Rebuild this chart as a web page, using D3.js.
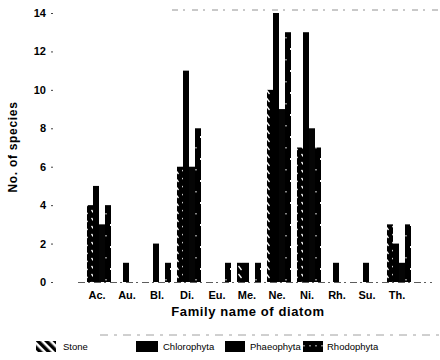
<!DOCTYPE html>
<html><head><meta charset="utf-8">
<script src="https://cdn.jsdelivr.net/npm/d3@7"></script>
<style>
body{margin:0;background:#fff;}
text{font-family:"Liberation Sans",Arial,sans-serif;}
</style></head>
<body><svg id="c" width="440" height="360"></svg>
<script>
const categories = ["Ac.","Au.","Bl.","Di.","Eu.","Me.","Ne.","Ni.","Rh.","Su.","Th."];
const seriesNames = ["Stone","Chlorophyta","Phaeophyta","Rhodophyta"];
const stone       = [4,0,0,6,0,1,10,7,0,0,3];
const chlorophyta = [5,1,2,11,0,1,14,13,1,1,2];
const phaeophyta  = [3,0,0,6,0,0,9,8,0,0,1];
const rhodophyta  = [4,0,1,8,1,1,13,7,0,0,3];
const yTicks = [0,2,4,6,8,10,12,14];

const seriesValues = [stone, chlorophyta, phaeophyta, rhodophyta];
const svg = d3.select("#c");
const defs = svg.append("defs");

// hatched pattern for Stone bars (black with white diagonal dashes)
const ps = defs.append("pattern").attr("id","stoneP").attr("patternUnits","userSpaceOnUse")
  .attr("width",7).attr("height",8);
ps.append("rect").attr("width",7).attr("height",8).attr("fill","#000");
ps.append("line").attr("x1",0.5).attr("y1",2).attr("x2",3.5).attr("y2",6).attr("stroke","#fff").attr("stroke-width",1.3);
// legend hatch (black stripes on white)
const pl = defs.append("pattern").attr("id","stoneL").attr("patternUnits","userSpaceOnUse")
  .attr("width",6).attr("height",6).attr("patternTransform","rotate(-45)");
pl.append("rect").attr("width",6).attr("height",6).attr("fill","#fff");
pl.append("rect").attr("width",3.5).attr("height",6).attr("fill","#000");
// speckled pattern for Rhodophyta
const pr = defs.append("pattern").attr("id","rhodoP").attr("patternUnits","userSpaceOnUse")
  .attr("width",6).attr("height",22);
pr.append("rect").attr("width",6).attr("height",22).attr("fill","#000");
pr.append("rect").attr("x",2).attr("y",4).attr("width",1).attr("height",2).attr("fill","#fff");
pr.append("rect").attr("x",3.5).attr("y",15).attr("width",1).attr("height",1.5).attr("fill","#fff");

const fills = ["url(#stoneP)","#000","#050505","url(#rhodoP)"];

const x = d3.scaleBand().domain(categories).range([84,414]).padding(0);
const xs = d3.scaleBand().domain(seriesNames).range([3,27]).padding(0);
const y = d3.scaleLinear().domain([0,14]).range([282,13]);

// artifact dashed lines from the scan
svg.append("line").attr("x1",172).attr("x2",440).attr("y1",10).attr("y2",10)
  .attr("stroke","#777").attr("stroke-width",0.8).attr("stroke-dasharray","6,5,2,7");
svg.append("line").attr("x1",100).attr("x2",440).attr("y1",335).attr("y2",335)
  .attr("stroke","#888").attr("stroke-width",0.8).attr("stroke-dasharray","8,6,3,6");

// bars
const g = svg.append("g");
seriesNames.forEach((s,si)=>{
  g.selectAll(null).data(categories.map((c,i)=>({c,v:seriesValues[si][i]})).filter(d=>d.v>0))
   .join("rect")
   .attr("x",d=>x(d.c)+xs(s))
   .attr("width",xs.bandwidth())
   .attr("y",d=>y(d.v))
   .attr("height",d=>y(0)-y(d.v))
   .attr("fill",fills[si]);
});

// y axis
const ya = svg.append("g").attr("transform","translate(53,0)")
  .call(d3.axisLeft(y).tickValues(yTicks).tickSize(2).tickPadding(5).tickFormat(d3.format("d")));
ya.select(".domain").remove();
ya.selectAll(".tick line").attr("stroke","#444");
ya.selectAll("text").attr("font-size",11).attr("font-weight","bold").attr("fill","#000");

// x axis
const xa = svg.append("g").attr("transform","translate(0,282)")
  .call(d3.axisBottom(x).tickSize(0).tickPadding(9));
xa.select(".domain").attr("stroke","#333").attr("stroke-width",0.8).attr("stroke-dasharray","7,3,2,4")
  .attr("d","M78,0.5H432");
xa.selectAll("text").attr("font-size",11).attr("font-weight","bold").attr("fill","#000").attr("dx",-2);

// axis titles
svg.append("text").attr("x",248).attr("y",316).attr("text-anchor","middle")
  .attr("font-size",13).attr("font-weight","bold").attr("letter-spacing",0.6).text("Family name of diatom");
svg.append("text").attr("transform","translate(17,147) rotate(-90)").attr("text-anchor","middle")
  .attr("font-size",12).attr("font-weight","bold").attr("letter-spacing",0.7).text("No. of species");

// legend
const legendItems = [
  {name:"Stone", sx:36, sw:20, tx:63, fill:"url(#stoneL)"},
  {name:"Chlorophyta", sx:136, sw:22, tx:163, fill:"#000"},
  {name:"Phaeophyta", sx:225, sw:20, tx:250, fill:"#000"},
  {name:"Rhodophyta", sx:303, sw:20, tx:327, fill:"url(#rhodoP)"}
];
const lg = svg.append("g");
legendItems.forEach(it=>{
  lg.append("rect").attr("x",it.sx).attr("y",341).attr("width",it.sw).attr("height",11).attr("fill",it.fill);
  lg.append("text").attr("x",it.tx).attr("y",349.5).attr("font-size",9.5).attr("fill","#000").text(it.name);
});
</script></body></html>
